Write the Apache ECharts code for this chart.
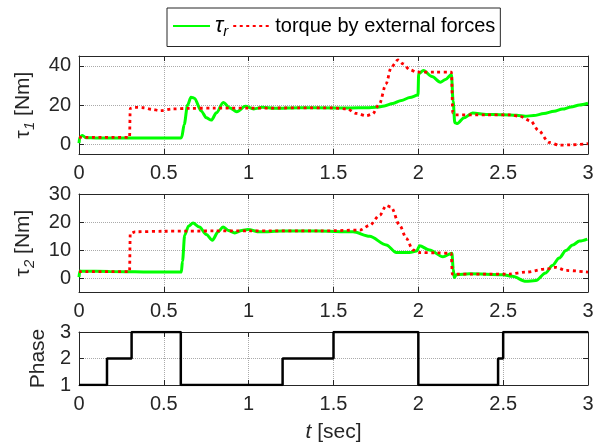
<!DOCTYPE html>
<html>
<head>
<meta charset="utf-8">
<script src="https://cdn.jsdelivr.net/npm/echarts@6/dist/echarts.min.js"></script>
<style>
  html, body { margin: 0; padding: 0; background: #fff; }
  #main { width: 605px; height: 446px; }
</style>
</head>
<body>
<div id="main"></div>
<script>
// tau_1: reference torque (green) and torque by external forces (red)
const tau1RT = [0, 0.005, 0.02, 0.04, 0.1, 0.3, 0.5, 0.6, 0.605, 0.62, 0.64, 0.66, 0.68, 0.72, 0.75, 0.78, 0.81, 0.85, 0.89, 0.93, 0.98, 1.03, 1.08, 1.15, 1.3, 1.5, 1.6, 1.7, 1.75, 1.8, 1.85, 1.9, 1.95, 1.998, 2.002, 2.03, 2.08, 2.13, 2.16, 2.195, 2.205, 2.215, 2.23, 2.27, 2.32, 2.4, 2.5, 2.58, 2.63, 2.68, 2.74, 2.8, 2.85, 2.9, 2.95, 3.0];
const tau1RV = [0.5, 3.5, 4.5, 3.3, 3.2, 3.2, 3.2, 3.2, 3.5, 10, 20, 24, 23.5, 17, 13.5, 12.3, 16, 21.3, 18.5, 16.6, 19.3, 18, 18.8, 18.3, 18.6, 18.5, 18.5, 18.6, 18.8, 19.5, 20.8, 22.3, 23.8, 25.1, 36, 37.6, 34.5, 31.6, 33, 35.5, 22, 11, 10.6, 13.5, 15.9, 15.2, 15, 14.8, 14.3, 14.6, 15.6, 16.8, 17.9, 19, 20, 20.9];
const tau1ET = [0, 0.298, 0.302, 0.33, 0.38, 0.43, 0.48, 0.55, 0.65, 0.8, 1.0, 1.3, 1.5, 1.58, 1.635, 1.694, 1.73, 1.77, 1.81, 1.84, 1.88, 1.91, 1.95, 1.99, 2.1, 2.195, 2.203, 2.22, 2.4, 2.54, 2.6, 2.66, 2.71, 2.77, 2.83, 2.9, 3.0];
const tau1EV = [3.5, 3.5, 18.3, 18.8, 18.6, 17.8, 17.1, 18, 18.3, 18.4, 18.4, 18.5, 18.5, 18.0, 15.7, 14.5, 15.4, 20.5, 30.8, 39.3, 43, 41, 38, 36.8, 36.8, 36.8, 16, 15, 15, 15, 14.2, 12, 6.8, 0.9, -0.5, -0.3, 0.3];

// tau_2
const tau2RT = [0, 0.005, 0.02, 0.18, 0.48, 0.603, 0.61, 0.623, 0.645, 0.672, 0.71, 0.75, 0.786, 0.82, 0.849, 0.88, 0.918, 0.96, 0.996, 1.065, 1.2, 1.4, 1.615, 1.713, 1.811, 1.87, 1.948, 1.99, 2.007, 2.066, 2.145, 2.198, 2.206, 2.212, 2.224, 2.302, 2.498, 2.555, 2.634, 2.693, 2.75, 2.79, 2.83, 2.87, 2.91, 2.95, 2.996];
const tau2RV = [0.3, 2.5, 2.4, 2.35, 2.1, 2.1, 6, 15.3, 18.5, 19.6, 18.2, 15.5, 13.5, 16.5, 18.2, 17, 16.1, 17, 17.3, 16.5, 16.8, 16.8, 16.5, 14.9, 11.8, 9.1, 9.1, 9.6, 11.5, 10, 7.6, 8.8, 3, 0.2, 1.2, 1.5, 1.2, 0.6, -1.2, -0.9, 1.8, 4.5, 7.1, 9.8, 11.8, 13.2, 13.9];
const tau2ET = [0, 0.298, 0.302, 0.33, 0.5, 0.8, 1.0, 1.42, 1.655, 1.713, 1.772, 1.811, 1.84, 1.89, 1.93, 1.968, 2.007, 2.1, 2.194, 2.2, 2.21, 2.535, 2.634, 2.75, 2.81, 2.87, 3.0];
const tau2EV = [2.3, 2.3, 15.9, 16.5, 16.7, 16.8, 16.8, 16.8, 17.1, 18.8, 22.4, 25.9, 25.3, 18.8, 14.1, 10, 9.1, 9, 8.8, 1.4, 1.4, 1.4, 2.1, 3.2, 3.8, 2.7, 2.1];

// phase switching times
const phaseT = [0, 0.165, 0.31, 0.6, 1.2, 1.5, 2.0, 2.47, 2.5, 3.0];
const phaseV = [1, 2, 3, 1, 2, 3, 1, 2, 3, 3];

const y1Ticks = [0, 20, 40];
const y2Ticks = [0, 10, 20, 30];
const y3Ticks = [1, 2, 3];

function zip(t, v) {
  return t.map((x, i) => [x, v[i]]);
}

const ink = '#262626';
const font = 'Liberation Sans';

function bottomX(grid, extra) {
  return Object.assign({
    type: 'value', gridIndex: grid, position: 'bottom', min: 0, max: 3, interval: 0.5,
    axisLine: { onZero: false, lineStyle: { color: ink, width: 1 } },
    axisTick: { inside: true, length: 5, lineStyle: { color: ink } },
    axisLabel: { fontSize: 20, color: ink, fontFamily: font, margin: 9 },
    splitLine: { show: true, lineStyle: { color: '#aaaaaa', type: 'dotted', width: 1 } }
  }, extra || {});
}
function topX(grid) {
  return {
    type: 'value', gridIndex: grid, position: 'top', min: 0, max: 3, interval: 0.5,
    axisLine: { onZero: false, lineStyle: { color: ink, width: 1 } },
    axisTick: { inside: true, length: 5, lineStyle: { color: ink } },
    axisLabel: { show: false }, splitLine: { show: false }
  };
}
function leftY(grid, min, max, ticks, name, gap) {
  return {
    type: 'value', gridIndex: grid, position: 'left', min: min, max: max,
    name: name, nameLocation: 'middle', nameGap: gap, nameRotate: 90,
    nameTextStyle: {
      fontSize: 21, color: ink, fontFamily: font,
      rich: {
        tau: { fontSize: 21, color: ink, fontFamily: font },
        sub: { fontSize: 15, color: ink, fontFamily: font, fontStyle: 'italic', padding: [12, 0, 0, 0] }
      }
    },
    axisLine: { onZero: false, lineStyle: { color: ink, width: 1 } },
    axisTick: { inside: true, length: 5, lineStyle: { color: ink }, customValues: ticks },
    axisLabel: { fontSize: 20, color: ink, fontFamily: font, margin: 8, customValues: ticks },
    splitLine: { show: true, lineStyle: { color: '#aaaaaa', type: 'dotted', width: 1 } }
  };
}
function rightY(grid, min, max, ticks) {
  return {
    type: 'value', gridIndex: grid, position: 'right', min: min, max: max,
    axisLine: { onZero: false, lineStyle: { color: ink, width: 1 } },
    axisTick: { inside: true, length: 5, lineStyle: { color: ink }, customValues: ticks },
    axisLabel: { show: false }, splitLine: { show: false }
  };
}

const green = { color: '#00ff00', width: 3 };
const red = { color: '#ff0000', width: 2.8, type: [3, 3.5] };

function curve(name, grid, data, style) {
  return {
    name: name, type: 'line', xAxisIndex: grid * 2, yAxisIndex: grid * 2,
    data: data, symbol: 'none', showSymbol: false, smooth: 0.3, smoothMonotone: 'x',
    color: style.color, lineStyle: style, z: name === 'ext' ? 3 : 2
  };
}

const chart = echarts.init(document.getElementById('main'));
chart.setOption({
  animation: false,
  backgroundColor: '#fff',
  textStyle: { fontFamily: font },
  legend: {
    data: ['tau', 'ext'],
    left: 167, top: 8,
    padding: [7, 5, 7, 5],
    itemGap: 4, itemWidth: 37, itemHeight: 14,
    itemStyle: { opacity: 0 },
    borderColor: ink, borderWidth: 1, backgroundColor: '#fff',
    textStyle: {
      fontSize: 20, color: '#000', fontFamily: font,
      rich: {
        tau: { fontSize: 22, color: '#000', fontFamily: font, fontStyle: 'italic' },
        sub: { fontSize: 15, color: '#000', fontFamily: font, fontStyle: 'italic', padding: [12, 0, 0, 0] }
      }
    },
    formatter: n => n === 'tau' ? '{tau|τ}{sub|r}' : 'torque by external forces'
  },
  grid: [
    { left: 79, right: 17, top: 56, height: 98 },
    { left: 79, right: 17, top: 194, height: 98 },
    { left: 79, right: 17, top: 332, height: 53 }
  ],
  xAxis: [
    bottomX(0), topX(0),
    bottomX(1), topX(1),
    bottomX(2, {
      name: '{i|t} [sec]', nameLocation: 'middle', nameGap: 37,
      nameTextStyle: { fontSize: 21, color: ink, fontFamily: font,
        rich: { i: { fontSize: 21, color: ink, fontFamily: font, fontStyle: 'italic' } } }
    }), topX(2)
  ],
  yAxis: [
    leftY(0, -5, 45, y1Ticks, '{tau|τ}{sub|1} [Nm]', 42), rightY(0, -5, 45, y1Ticks),
    leftY(1, -5, 30, y2Ticks, '{tau|τ}{sub|2} [Nm]', 42), rightY(1, -5, 30, y2Ticks),
    leftY(2, 1, 3, y3Ticks, 'Phase', 25), rightY(2, 1, 3, y3Ticks)
  ],
  series: [
    curve('tau', 0, zip(tau1RT, tau1RV), green),
    curve('ext', 0, zip(tau1ET, tau1EV), red),
    curve('tau', 1, zip(tau2RT, tau2RV), green),
    curve('ext', 1, zip(tau2ET, tau2EV), red),
    {
      name: 'phase', type: 'line', xAxisIndex: 4, yAxisIndex: 4, step: 'end',
      data: zip(phaseT, phaseV), symbol: 'none', showSymbol: false,
      color: '#000', lineStyle: { color: '#000', width: 2.5 }
    }
  ]
});
</script>
</body>
</html>
